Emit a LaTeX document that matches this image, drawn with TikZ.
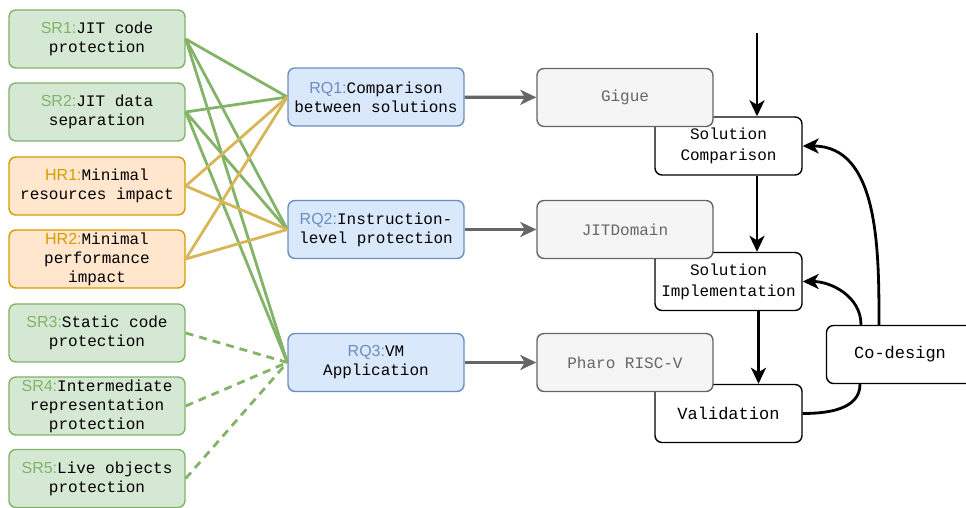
\documentclass[tikz,border=0pt]{standalone}
\usepackage{fontspec}
\setmonofont{Liberation Mono}
\setsansfont{Liberation Sans}
\usetikzlibrary{arrows.meta,positioning}
\definecolor{grfill}{HTML}{D5E8D4}
\definecolor{grline}{HTML}{82B366}
\definecolor{orfill}{HTML}{FFE6CC}
\definecolor{orline}{HTML}{D79B00}
\definecolor{blfill}{HTML}{DAE8FC}
\definecolor{blline}{HTML}{6C8EBF}
\definecolor{gyfill}{HTML}{F5F5F5}
\definecolor{gyline}{HTML}{666666}
\definecolor{yeline}{HTML}{D6B656}
\newcommand{\tagpre}[2]{{\sffamily\color{#1}#2}}
\begin{document}
\begin{tikzpicture}[x=1bp,y=1bp,>={Stealth[length=16bp,width=15bp,inset=4.5bp]},
		box/.style={rectangle,rounded corners=7bp,draw,line width=1.4bp,minimum width=176bp,minimum height=58bp,inner sep=0pt,align=center,font=\ttfamily\fontsize{16bp}{19bp}\selectfont},
		greenbox/.style={box,fill=grfill,draw=grline},
		orangebox/.style={box,fill=orfill,draw=orline},
		bluebox/.style={box,fill=blfill,draw=blline},
		greybox/.style={box,fill=gyfill,draw=gyline,text=gyline},
		stepbox/.style={box,fill=white,draw=black,minimum width=147bp,font=\ttfamily\fontsize{16bp}{21bp}\selectfont},
		greenline/.style={draw=grline,line width=2.8bp},
		yellowline/.style={draw=yeline,line width=2.8bp},
		dashline/.style={greenline,dash pattern=on 8bp off 6bp},
		greyarrow/.style={->,draw=gyline,line width=3.2bp},
		blackarrow/.style={->,draw=black,line width=2.8bp}]
		\useasboundingbox (0,0) rectangle (966,508);
		\node [greenbox] (sr1) at (97, 469) {\tagpre{grline}{SR1:}JIT code\\protection};
		\node [greenbox] (sr2) at (97, 396) {\tagpre{grline}{SR2:}JIT data\\separation};
		\node [orangebox] (hr1) at (97, 322) {\tagpre{orline}{HR1:}Minimal\\resources impact};
		\node [orangebox] (hr2) at (97, 249) {\tagpre{orline}{HR2:}Minimal\\performance\\impact};
		\node [greenbox] (sr3) at (97, 175) {\tagpre{grline}{SR3:}Static code\\protection};
		\node [greenbox] (sr4) at (97, 102) {\tagpre{grline}{SR4:}Intermediate\\representation\\protection};
		\node [greenbox] (sr5) at (97, 29.5) {\tagpre{grline}{SR5:}Live objects\\protection};
		\node [bluebox] (rq1) at (376, 411) {\tagpre{blline}{RQ1:}Comparison\\between solutions};
		\node [bluebox] (rq2) at (376, 278.5) {\tagpre{blline}{RQ2:}Instruction-\\level protection};
		\node [bluebox] (rq3) at (376, 145.5) {\tagpre{blline}{RQ3:}VM\\Application};
		\node [stepbox] (sc) at (728.5, 362) {Solution\\Comparison};
		\node [stepbox] (si) at (728.5, 226.5) {Solution\\Implementation};
		\node [stepbox,font=\ttfamily\fontsize{17bp}{20bp}\selectfont] (val) at (728.5, 94.5) {Validation};
		\node [stepbox,font=\ttfamily\fontsize{17bp}{20bp}\selectfont] (cd) at (900, 153.5) {Co-design};
		\node [greybox] (gigue) at (625, 410.5) {Gigue};
		\node [greybox] (jit) at (625, 278.5) {JITDomain};
		\node [greybox] (pharo) at (625, 145.5) {Pharo RISC-V};
		\coordinate (start) at (757, 475);
		\draw[greenline] (sr1.east) to (rq1.west);
		\draw[greenline] (sr1.east) to (rq2.west);
		\draw[greenline] (sr1.east) to (rq3.west);
		\draw[greenline] (sr2.east) to (rq1.west);
		\draw[greenline] (sr2.east) to (rq2.west);
		\draw[greenline] (sr2.east) to (rq3.west);
		\draw[yellowline] (hr1.east) to (rq1.west);
		\draw[yellowline] (hr1.east) to (rq2.west);
		\draw[yellowline] (hr2.east) to (rq1.west);
		\draw[yellowline] (hr2.east) to (rq2.west);
		\draw[dashline] (sr3.east) to (rq3.west);
		\draw[dashline] (sr4.east) to (rq3.west);
		\draw[dashline] (sr5.east) to (rq3.west);
		\draw[greyarrow] (rq1) to (gigue);
		\draw[greyarrow] (rq2) to (jit);
		\draw[greyarrow] (rq3) to (pharo);
		\draw[blackarrow] (start) to (start |- sc.north);
		\draw[blackarrow] ([xshift=28.5bp]sc.south) to ([xshift=28.5bp]si.north);
		\draw[blackarrow] ([xshift=30bp]si.south) to ([xshift=30bp]val.north);
		\draw[draw=black,line width=2.8bp] (val.east) to[out=0,in=-90] ([xshift=-40bp]cd.south);
		\draw[blackarrow] ([xshift=-21bp]cd.north) to[out=90,in=0] (sc.east);
		\draw[blackarrow] ([xshift=-39bp]cd.north) to[out=90,in=0] (si.east);
	\end{tikzpicture}
\end{document}
